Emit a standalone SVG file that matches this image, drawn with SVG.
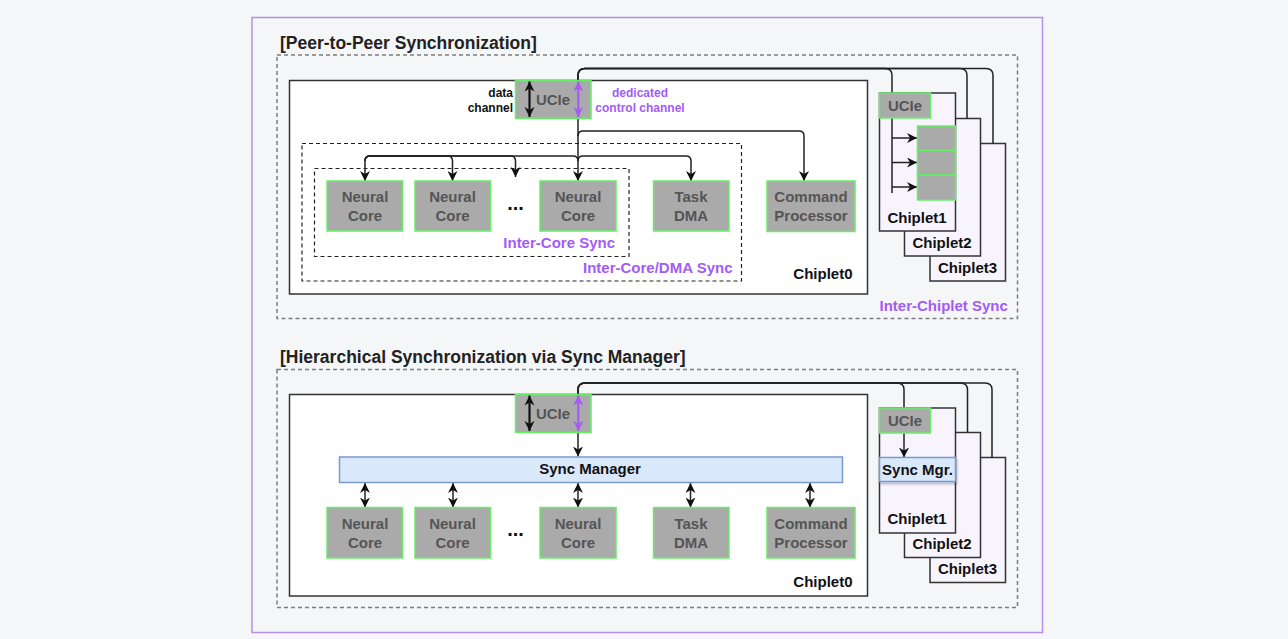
<svg xmlns="http://www.w3.org/2000/svg" width="1288" height="639" viewBox="0 0 1288 639">
  <defs>
    <style>
      text{font-family:"Liberation Sans",Arial,Helvetica,sans-serif;font-weight:bold}
      .title{font-size:17.5px;fill:#222}
      .lbl{font-size:15px;fill:#555;text-anchor:middle}
      .name{font-size:15px;fill:#111}
      .dots{font-size:20px;fill:#111;text-anchor:middle}
      .mid{text-anchor:middle}
      .end{text-anchor:end}
      .pur{fill:#a35cf5}
      .small{font-size:12px}
      .blk{fill:#aaaaaa;stroke:#66ee66;stroke-width:1.5}
      .chip0{fill:#ffffff;stroke:#333;stroke-width:1.5}
      .chipx{fill:#f8f4fe;stroke:#333;stroke-width:1.5}
      .zone{fill:none;stroke:#7d7d7d;stroke-width:1.5;stroke-dasharray:4 3}
      .sub{fill:none;stroke:#222;stroke-width:1.2;stroke-dasharray:4 3}
      .mgr{fill:#dae8fc;stroke:#7a9acb;stroke-width:1.5}
      .wire{fill:none;stroke:#222;stroke-width:1.5}
      .arrow{marker-end:url(#arr)}
      .both{marker-start:url(#arr);marker-end:url(#arr)}
      .data{fill:none;stroke:#111;stroke-width:2.2;marker-start:url(#bigK);marker-end:url(#bigK)}
      .ctrl{fill:none;stroke:#a35cf5;stroke-width:2.2;marker-start:url(#bigP);marker-end:url(#bigP)}
    </style>
    <marker id="arr" viewBox="0 0 10 10" refX="10" refY="5" markerWidth="10" markerHeight="10" markerUnits="userSpaceOnUse" orient="auto-start-reverse">
      <path d="M0,0 L10,5 L0,10 L3,5 z" fill="#111"/>
    </marker>
    <marker id="bigK" viewBox="0 0 10 10" refX="10" refY="5" markerWidth="10" markerHeight="12" markerUnits="userSpaceOnUse" orient="auto-start-reverse">
      <path d="M0,0 L10,5 L0,10 L3,5 z" fill="#111"/>
    </marker>
    <marker id="bigP" viewBox="0 0 10 10" refX="10" refY="5" markerWidth="10" markerHeight="12" markerUnits="userSpaceOnUse" orient="auto-start-reverse">
      <path d="M0,0 L10,5 L0,10 L3,5 z" fill="#a35cf5"/>
    </marker>
    <filter id="shadow" x="-10%" y="-20%" width="130%" height="160%">
      <feDropShadow dx="1" dy="2" stdDeviation="1.2" flood-color="#000" flood-opacity="0.25"/>
    </filter>
  </defs>

  <rect x="0" y="0" width="1288" height="639" fill="#f5f6f8"/>
  <rect x="252" y="17.5" width="790.5" height="615" fill="#f5f6f8" stroke="#b690ea" stroke-width="1.5"/>

  <!-- ===== Peer-to-peer section ===== -->
  <text class="title" x="280" y="49">[Peer-to-Peer Synchronization]</text>
  <rect class="zone" x="277" y="55" width="740.5" height="263.5"/>
  <text class="name pur" x="879.5" y="310.5">Inter-Chiplet Sync</text>

  <g id="p2p-chiplet0">
    <rect class="chip0" x="289.5" y="80.5" width="578" height="213.5"/>
    <text class="name end" x="852.5" y="279">Chiplet0</text>
  </g>
  <g id="p2p-dma-zone">
    <rect class="sub" x="302" y="143.5" width="439.5" height="137.5"/>
    <text class="name pur end" x="732.5" y="272.5">Inter-Core/DMA Sync</text>
  </g>
  <g id="p2p-core-zone">
    <rect class="sub" x="314.5" y="168.5" width="314.5" height="88"/>
    <text class="name pur end" x="615" y="247.5">Inter-Core Sync</text>
  </g>

  <g id="p2p-chiplet3"><rect class="chipx" x="930" y="143.5" width="75.5" height="137.5"/><text class="name mid" x="967.5" y="272.5">Chiplet3</text></g>
  <g id="p2p-chiplet2"><rect class="chipx" x="904.5" y="118.5" width="76" height="137.5"/><text class="name mid" x="942" y="247.5">Chiplet2</text></g>
  <g id="p2p-chiplet1">
    <rect class="chipx" x="879.5" y="93" width="76" height="138"/>
    <text class="name mid" x="917" y="222.5">Chiplet1</text>
  </g>

  <g id="p2p-links">
    <path class="wire" d="M578,80 V75.5 Q578,68.5 585,68.5 H885 Q892,68.5 892,75.5 V193"/>
    <path class="wire" d="M578,80 V75.5 Q578,68.5 585,68.5 H960 Q967,68.5 967,75.5 V118.5"/>
    <path class="wire" d="M578,80 V75.5 Q578,68.5 585,68.5 H986 Q993,68.5 993,75.5 V143.5"/>
    <path class="wire arrow" d="M892,138 H917"/>
    <path class="wire arrow" d="M892,162.5 H917"/>
    <path class="wire arrow" d="M892,187 H917"/>
    <path class="wire arrow" d="M578,118 V181"/>
    <path class="wire arrow" d="M578,136 Q578,131 583,131 H799 Q804,131 804,136 V181"/>
    <path class="wire arrow" d="M578,161 Q578,156 573,156 H370 Q365,156 365,161 V181"/>
    <path class="wire arrow" d="M365,161 Q365,156 370,156 H447.5 Q452.5,156 452.5,161 V181"/>
    <path class="wire arrow" d="M365,161 Q365,156 370,156 H510.5 Q515.5,156 515.5,161 V177"/>
    <path class="wire arrow" d="M578,161 Q578,156 583,156 H686 Q691,156 691,161 V181"/>
  </g>

  <g id="p2p-chiplet1-ucie">
    <rect class="blk" x="879.5" y="93" width="51" height="25"/>
    <text class="lbl" x="905" y="111">UCIe</text>
  </g>
  <g id="p2p-chiplet1-sync">
    <rect class="blk" x="917.5" y="126" width="38" height="24.5"/>
    <rect class="blk" x="917.5" y="150.5" width="38" height="24.5"/>
    <rect class="blk" x="917.5" y="175" width="38" height="25"/>
  </g>

  <g id="p2p-ucie">
    <rect class="blk" x="515.5" y="80.5" width="75.5" height="38"/>
    <text class="lbl" x="553" y="105">UCIe</text>
    <path class="data" d="M529.5,81.5 V117"/>
    <path class="ctrl" d="M578.3,81.5 V117"/>
    <text class="small end" x="513" y="97" fill="#111">data</text>
    <text class="small end" x="513" y="111.5" fill="#111">channel</text>
    <text class="small pur mid" x="640" y="97">dedicated</text>
    <text class="small pur mid" x="640" y="111.5">control channel</text>
  </g>

  <g id="p2p-core1"><rect class="blk" x="327" y="181" width="75.5" height="50"/><text class="lbl" x="365" y="202">Neural</text><text class="lbl" x="365" y="221">Core</text></g>
  <g id="p2p-core2"><rect class="blk" x="415" y="181" width="75.5" height="50"/><text class="lbl" x="452.5" y="202">Neural</text><text class="lbl" x="452.5" y="221">Core</text></g>
  <text class="dots" x="515.5" y="210">...</text>
  <g id="p2p-core3"><rect class="blk" x="540" y="181" width="76" height="50"/><text class="lbl" x="578" y="202">Neural</text><text class="lbl" x="578" y="221">Core</text></g>
  <g id="p2p-dma"><rect class="blk" x="653.5" y="181" width="75.5" height="50"/><text class="lbl" x="691" y="202">Task</text><text class="lbl" x="691" y="221">DMA</text></g>
  <g id="p2p-cmd"><rect class="blk" x="767" y="181" width="88" height="50.5"/><text class="lbl" x="811" y="202">Command</text><text class="lbl" x="811" y="221">Processor</text></g>

  <!-- ===== Hierarchical section ===== -->
  <text class="title" x="280" y="363">[Hierarchical Synchronization via Sync Manager]</text>
  <rect class="zone" x="277" y="369.5" width="740.5" height="238"/>

  <g id="hier-chiplet0">
    <rect class="chip0" x="289.5" y="394.5" width="578" height="201.5"/>
    <text class="name end" x="852.5" y="586.5">Chiplet0</text>
  </g>

  <g id="hier-chiplet3"><rect class="chipx" x="930" y="457.5" width="75.5" height="125"/><text class="name mid" x="967.5" y="573.5">Chiplet3</text></g>
  <g id="hier-chiplet2"><rect class="chipx" x="904.5" y="432.5" width="76" height="125"/><text class="name mid" x="942" y="548.5">Chiplet2</text></g>
  <g id="hier-chiplet1">
    <rect class="chipx" x="879.5" y="408" width="76" height="125"/>
    <text class="name mid" x="917" y="523.5">Chiplet1</text>
  </g>

  <g id="hier-links">
    <path class="wire arrow" d="M578,394 V390 Q578,383 585,383 H897 Q904,383 904,390 V457.5"/>
    <path class="wire" d="M578,394 V390 Q578,383 585,383 H960.5 Q967.5,383 967.5,390 V432.5"/>
    <path class="wire" d="M578,394 V390 Q578,383 585,383 H985 Q992,383 992,390 V457.5"/>
    <path class="wire arrow" d="M578,432.5 V456.5"/>
    <path class="wire both" d="M365,483 V507.5"/>
    <path class="wire both" d="M453,483 V507.5"/>
    <path class="wire both" d="M578,483 V507.5"/>
    <path class="wire both" d="M690.5,483 V507.5"/>
    <path class="wire both" d="M810,483 V507.5"/>
  </g>

  <g id="hier-chiplet1-ucie">
    <rect class="blk" x="879.5" y="408" width="51" height="25"/>
    <text class="lbl" x="905" y="426">UCIe</text>
  </g>
  <g id="hier-chiplet1-mgr">
    <rect class="mgr" x="879.5" y="457.5" width="76" height="24" filter="url(#shadow)"/>
    <text class="name mid" x="917.5" y="474.5">Sync Mgr.</text>
  </g>

  <g id="hier-ucie">
    <rect class="blk" x="515.5" y="394.5" width="75.5" height="38"/>
    <text class="lbl" x="553" y="419">UCIe</text>
    <path class="data" d="M529.5,395.5 V431"/>
    <path class="ctrl" d="M578.3,395.5 V431"/>
  </g>

  <g id="hier-sync-manager">
    <rect class="mgr" x="339.5" y="457" width="503" height="25.5"/>
    <text class="name mid" x="590" y="474">Sync Manager</text>
  </g>

  <g id="hier-core1"><rect class="blk" x="327" y="507.5" width="75.5" height="50.5"/><text class="lbl" x="365" y="529">Neural</text><text class="lbl" x="365" y="547.5">Core</text></g>
  <g id="hier-core2"><rect class="blk" x="415" y="507.5" width="75.5" height="50.5"/><text class="lbl" x="452.5" y="529">Neural</text><text class="lbl" x="452.5" y="547.5">Core</text></g>
  <text class="dots" x="515.5" y="536">...</text>
  <g id="hier-core3"><rect class="blk" x="540" y="507.5" width="76" height="50.5"/><text class="lbl" x="578" y="529">Neural</text><text class="lbl" x="578" y="547.5">Core</text></g>
  <g id="hier-dma"><rect class="blk" x="653.5" y="507.5" width="75.5" height="50.5"/><text class="lbl" x="691" y="529">Task</text><text class="lbl" x="691" y="547.5">DMA</text></g>
  <g id="hier-cmd"><rect class="blk" x="767" y="507.5" width="88" height="50.5"/><text class="lbl" x="811" y="529">Command</text><text class="lbl" x="811" y="547.5">Processor</text></g>
</svg>
